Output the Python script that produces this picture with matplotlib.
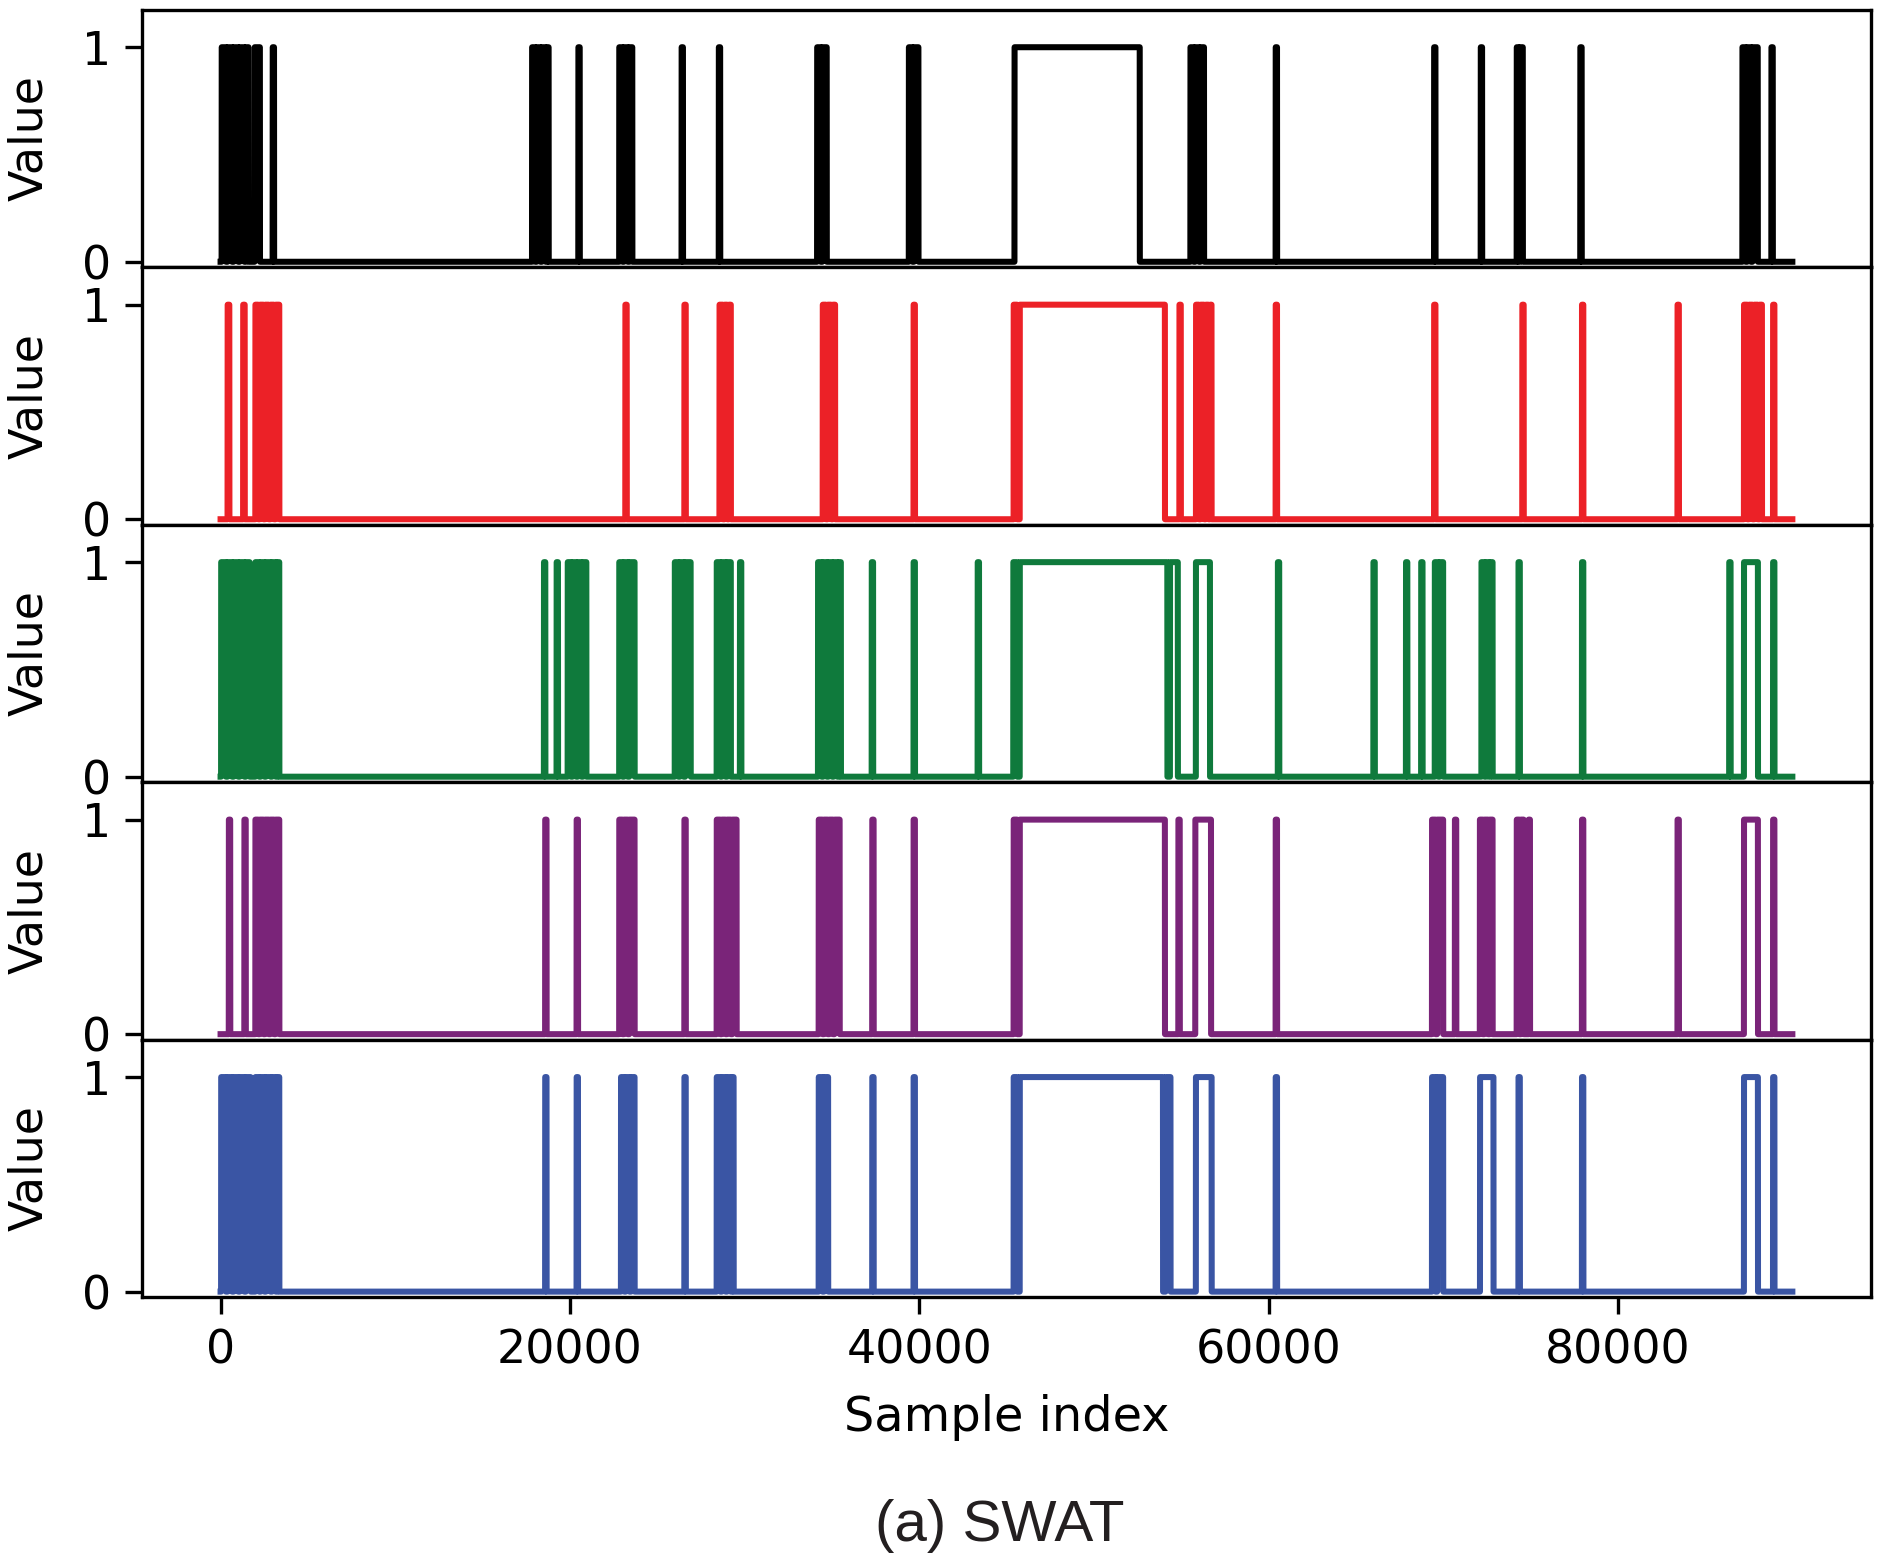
import numpy as np
import matplotlib
matplotlib.use("Agg")
import matplotlib.pyplot as plt

# number of samples on the x axis
N = 89984

# anomaly intervals (start, end)
black_iv = [(60, 300), (400, 650), (750, 1000), (1100, 1350), (1450, 1600),
            (1950, 2250), (2980, 3060),
            (17830, 18000), (18100, 18300), (18400, 18600), (18700, 18780),
            (20480, 20560),
            (22820, 23000), (23100, 23300), (23400, 23570),
            (26390, 26470), (28520, 28600),
            (34150, 34350), (34450, 34700),
            (39400, 39600), (39700, 39950),
            (45450, 52620),
            (55520, 55700), (55800, 56000), (56100, 56300),
            (60400, 60480), (69470, 69550), (72140, 72220),
            (74200, 74300), (74400, 74550),
            (77840, 77920),
            (87120, 87300), (87400, 87600), (87700, 88000),
            (88780, 88860)]

red_iv = [(400, 500), (1290, 1380),
          (1990, 2150), (2250, 2450), (2550, 2750), (2850, 3050), (3150, 3360),
          (23170, 23250), (26550, 26630),
          (28560, 28750), (28850, 29000), (29100, 29210),
          (34470, 34650), (34750, 34950), (35050, 35180),
          (39670, 39750),
          (45400, 45600), (45750, 54060),
          (54890, 54970),
          (55840, 56000), (56100, 56300), (56400, 56550), (56650, 56730),
          (60400, 60480), (69470, 69550), (74520, 74600), (77935, 78015),
          (83405, 83485),
          (87210, 87400), (87500, 87700), (87800, 88000), (88100, 88240),
          (88875, 88955)]

green_iv = [(30, 300), (400, 650), (750, 1000), (1100, 1350), (1450, 1660),
            (1990, 2200), (2300, 2500), (2600, 2850), (2950, 3150), (3250, 3360),
            (18510, 18590), (19235, 19315),
            (19870, 20050), (20150, 20350), (20450, 20650), (20750, 20940),
            (22820, 23000), (23100, 23300), (23400, 23700),
            (26000, 26200), (26300, 26500), (26600, 26910),
            (28400, 28600), (28700, 28900), (29000, 29210), (29730, 29810),
            (34200, 34400), (34500, 34700), (34800, 35000), (35100, 35300), (35400, 35510),
            (37275, 37355), (39670, 39750), (43340, 43420),
            (45380, 45600), (45750, 54200), (54350, 54800),
            (55834, 56640),
            (60525, 60605), (65995, 66075), (67860, 67940), (68730, 68810),
            (69510, 69700), (69800, 69990),
            (72180, 72350), (72450, 72600), (72700, 72820),
            (74300, 74380), (77935, 78015), (86365, 86445),
            (87210, 88010), (88875, 88955)]

purple_iv = [(470, 550), (1360, 1440),
             (1990, 2150), (2250, 2450), (2550, 2750), (2850, 3050), (3150, 3360),
             (18580, 18660), (20380, 20460),
             (22820, 23000), (23100, 23300), (23400, 23700),
             (26550, 26630),
             (28400, 28600), (28700, 28900), (29000, 29200), (29300, 29540),
             (34240, 34450), (34550, 34750), (34850, 35050), (35150, 35440),
             (37305, 37385), (39670, 39750),
             (45400, 45600), (45750, 54060),
             (54830, 54910),
             (55800, 56700),
             (60400, 60480),
             (69350, 69550), (69650, 69990), (70660, 70740),
             (72090, 72250), (72350, 72550), (72650, 72820),
             (74200, 74350), (74450, 74600), (74880, 74960),
             (77935, 78015), (83405, 83485),
             (87210, 88010), (88875, 88955)]

blue_iv = [(30, 300), (400, 650), (750, 1000), (1100, 1350), (1450, 1720),
           (1990, 2200), (2300, 2500), (2600, 2850), (2950, 3150), (3250, 3360),
           (18580, 18660), (20380, 20460),
           (22920, 23100), (23200, 23400), (23500, 23700),
           (26550, 26630),
           (28400, 28600), (28700, 28900), (29000, 29200), (29280, 29370),
           (34240, 34450), (34550, 34780),
           (37305, 37385), (39670, 39750),
           (45400, 45600), (45750, 53950), (54100, 54380),
           (55834, 56735),
           (60400, 60480),
           (69350, 69550), (69650, 69990),
           (72100, 72870),
           (74300, 74380), (77935, 78015),
           (87210, 88010), (88875, 88955)]

series = [black_iv, red_iv, green_iv, purple_iv, blue_iv]
colors = ["#000000", "#ec2127", "#0f7a3c", "#7a2479", "#3a55a4"]
xticks = [0, 20000, 40000, 60000, 80000]


def make_signal(intervals):
    s = np.zeros(N)
    for a, b in intervals:
        s[a:b + 1] = 1
    return s


x = np.arange(N)

fig, axes = plt.subplots(5, 1, sharex=True, figsize=(1883 / 300, 1560 / 300), dpi=300)
fig.subplots_adjust(left=0.0754, right=0.9936, top=0.9938, bottom=0.1686, hspace=0)

for ax, iv, c in zip(axes, series, colors):
    ax.plot(x, make_signal(iv), color=c, lw=1.45, solid_joinstyle="round")
    ax.set_ylim(-0.025, 1.175)
    ax.set_yticks([0, 1])
    ax.set_ylabel("Value", fontsize=11)
    ax.yaxis.set_label_coords(-0.052, 0.5)
    ax.tick_params(labelsize=11, length=4, width=0.8)
    for sp in ax.spines.values():
        sp.set_linewidth(0.8)

axes[-1].set_xticks(xticks)
axes[-1].set_xlabel("Sample index", fontsize=11.5, labelpad=5)

fig.text(0.531, 0.022, "(a) SWAT", family="Liberation Sans", fontsize=14,
         ha="center", va="center", color="#231f20")

fig.savefig("out.png", dpi=300)
